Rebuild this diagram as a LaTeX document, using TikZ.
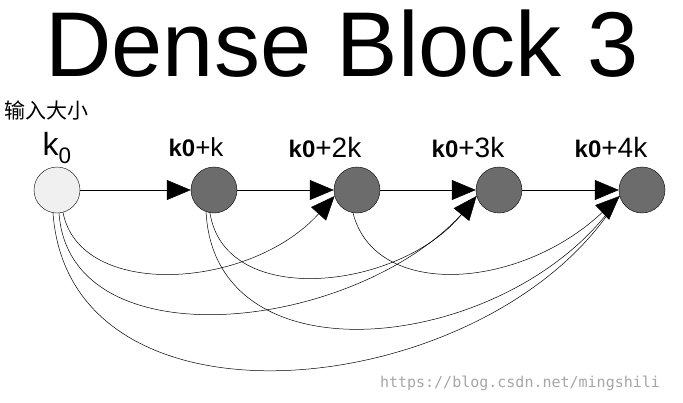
\documentclass[tikz,border=0pt]{standalone}
\usepackage{fontspec}
\setmainfont{Liberation Sans}
\newfontfamily\cjk{Noto Sans CJK SC}
\newfontfamily\wm{DejaVu Sans Mono}
\usetikzlibrary{arrows.meta}
\begin{document}
\begin{tikzpicture}[x=1pt,y=-1pt,
  nd/.style={circle,draw,minimum size=46pt,inner sep=0pt,fill=gray!85!black},
  st/.style={-{Triangle[length=24pt,width=20pt]},line width=0.6pt},
  cv/.style={line width=0.5pt},
  ct/.style={line width=0.5pt,-{Triangle[length=24pt,width=20pt]}},
  lbl/.style={font=\fontsize{32}{32}\selectfont}]
\useasboundingbox (0,0) rectangle (683,402);
\node[font=\fontsize{92}{92}\selectfont] (t) at (342,44) {Dense Block 3};
\node[font=\cjk\fontsize{21}{21}\selectfont] (cn) at (47,110) {输入大小};
\node[nd,fill=gray!12] (n0) at (57,190) {};
\node[nd] (n1) at (214,190) {};
\node[nd] (n2) at (357,190) {};
\node[nd] (n3) at (499,190) {};
\node[nd] (n4) at (642,190) {};
\node[lbl] (l0) at (57,148) {k\textsubscript{0}};
\node[lbl] (l1) at (196,147) {\textbf{\fontsize{24}{24}\selectfont k0}\fontsize{26}{26}\selectfont+k};
\node[lbl] (l2) at (325,147) {\textbf{\fontsize{24}{24}\selectfont k0}\fontsize{28}{28}\selectfont+2k};
\node[lbl] (l3) at (468,147) {\textbf{\fontsize{24}{24}\selectfont k0}\fontsize{28}{28}\selectfont+3k};
\node[lbl] (l4) at (611,147) {\textbf{\fontsize{24}{24}\selectfont k0}\fontsize{28}{28}\selectfont+4k};
\draw[st] (n0) -- (n1);
\draw[st] (n1) -- (n2);
\draw[st] (n2) -- (n3);
\draw[st] (n3) -- (n4);
\draw[ct] (n0.-75) .. controls (80,300) and (250,290) .. (n2.-165);
\draw[cv] (n0.-85) .. controls (70,370) and (380,330) .. (n3.-165);
\draw[cv] (n0.-100) .. controls (70,450) and (500,400) .. (n4.-165);
\draw[ct] (n1.-100) .. controls (225,310) and (400,290) .. (n3.-165);
\draw[cv] (n1.-110) .. controls (215,390) and (520,350) .. (n4.-165);
\draw[ct] (n2.-100) .. controls (375,300) and (520,290) .. (n4.-165);
\node[font=\wm\fontsize{15}{15}\selectfont,text=gray!70] (w) at (520,383) {https://blog.csdn.net/mingshili};
\end{tikzpicture}
\end{document}
